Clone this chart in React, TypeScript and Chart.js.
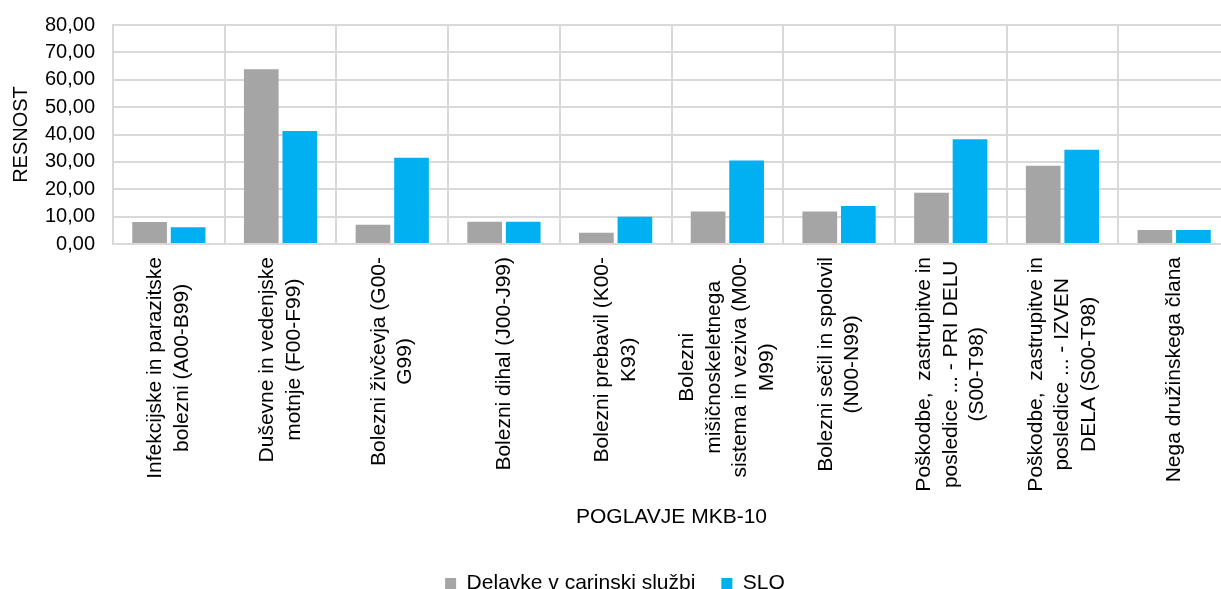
import React, { useEffect, useRef } from "react";
import { Chart, registerables } from "chart.js";

Chart.register(...registerables);

const categories: string[][] = [
  ["Infekcijske in parazitske", "bolezni (A00-B99)"],
  ["Duševne in vedenjske", "motnje (F00-F99)"],
  ["Bolezni živčevja (G00-", "G99)"],
  ["Bolezni dihal (J00-J99)"],
  ["Bolezni prebavil (K00-", "K93)"],
  ["Bolezni", "mišičnoskeletnega", "sistema in veziva (M00-", "M99)"],
  ["Bolezni sečil in spolovil", "(N00-N99)"],
  ["Poškodbe,  zastrupitve in", "posledice ... - PRI DELU", "(S00-T98)"],
  ["Poškodbe,  zastrupitve in", "posledice ... - IZVEN", "DELA (S00-T98)"],
  ["Nega družinskega člana"],
];

const seriesNames = ["Delavke v carinski službi", "SLO"];
const carinaValues = [8.0, 63.8, 7.0, 8.1, 4.1, 11.9, 11.9, 18.7, 28.6, 5.1];
const sloValues = [6.1, 41.3, 31.5, 8.1, 10.0, 30.5, 13.9, 38.3, 34.4, 5.1];

const yMin = 0;
const yMax = 80;
const yStep = 10;
const yTitle = "RESNOST";
const xTitle = "POGLAVJE MKB-10";

const FONT = "'Liberation Sans', Arial, sans-serif";

const categoryLabelPlugin = {
  id: "categoryLabels",
  afterDraw(chart: any) {
    const xScale = chart.scales.x;
    const ctx = chart.ctx;
    const top = chart.chartArea.bottom + 13;
    const lh = 26.5;
    ctx.save();
    ctx.font = `21px ${FONT}`;
    ctx.fillStyle = "#000";
    ctx.textAlign = "center";
    ctx.textBaseline = "middle";
    categories.forEach((lines, i) => {
      const xc = xScale.getPixelForValue(i);
      const maxW = Math.max(...lines.map((l) => ctx.measureText(l).width));
      ctx.save();
      ctx.translate(xc, 0);
      ctx.rotate(-Math.PI / 2);
      lines.forEach((line, j) => {
        const v = (j - (lines.length - 1) / 2) * lh;
        ctx.fillText(line, -(top + maxW / 2), v);
      });
      ctx.restore();
    });
    ctx.restore();
  },
};

export default function App() {
  const canvasRef = useRef<HTMLCanvasElement | null>(null);

  useEffect(() => {
    if (!canvasRef.current) return;
    const chart = new Chart(canvasRef.current, {
      type: "bar",
      data: {
        labels: categories.map((c) => c.join(" ")),
        datasets: [
          {
            label: seriesNames[0],
            data: carinaValues,
            backgroundColor: "#a5a5a5",
            borderWidth: 0,
            barPercentage: 0.9,
            categoryPercentage: 0.69,
          },
          {
            label: seriesNames[1],
            data: sloValues,
            backgroundColor: "#00b0f0",
            borderWidth: 0,
            barPercentage: 0.9,
            categoryPercentage: 0.69,
          },
        ],
      },
      options: {
        responsive: false,
        animation: false,
        layout: { padding: { left: 0, right: 10, top: 15, bottom: 0 } },
        plugins: {
          legend: {
            position: "bottom",
            labels: {
              boxWidth: 11,
              boxHeight: 11,
              padding: 26,
              color: "#000",
              font: { family: FONT, size: 21 },
            },
          },
          tooltip: { enabled: false },
        },
        scales: {
          x: {
            grid: {
              color: "#d9d9d9",
              lineWidth: 2,
              drawTicks: false,
              offset: true,
            },
            border: { color: "#d9d9d9", width: 2 },
            ticks: { display: false },
            title: {
              display: true,
              text: xTitle,
              color: "#000",
              font: { family: FONT, size: 21 },
              padding: { top: 17, bottom: 17 },
            },
            afterFit(scale: any) {
              scale.height = 303;
            },
          },
          y: {
            min: yMin,
            max: yMax,
            ticks: {
              stepSize: yStep,
              autoSkip: false,
              padding: 18,
              color: "#000",
              font: { family: FONT, size: 20 },
              callback: (v: any) => Number(v).toFixed(2).replace(".", ","),
            },
            grid: { color: "#d9d9d9", lineWidth: 2, drawTicks: false },
            border: { color: "#d9d9d9", width: 2 },
            title: {
              display: true,
              text: yTitle,
              color: "#000",
              font: { family: FONT, size: 20 },
              padding: { top: 9, bottom: 0 },
            },
            afterFit(scale: any) {
              scale.width = 113;
            },
          },
        },
      },
      plugins: [categoryLabelPlugin],
    });
    return () => chart.destroy();
  }, []);

  return (
    <div
      style={{
        position: "fixed",
        left: 0,
        top: 0,
        width: 1221,
        height: 589,
        overflow: "hidden",
        background: "#fff",
      }}
    >
      <canvas
        ref={canvasRef}
        width={1240}
        height={609}
        style={{ display: "block", marginTop: -5 }}
      />
    </div>
  );
}
